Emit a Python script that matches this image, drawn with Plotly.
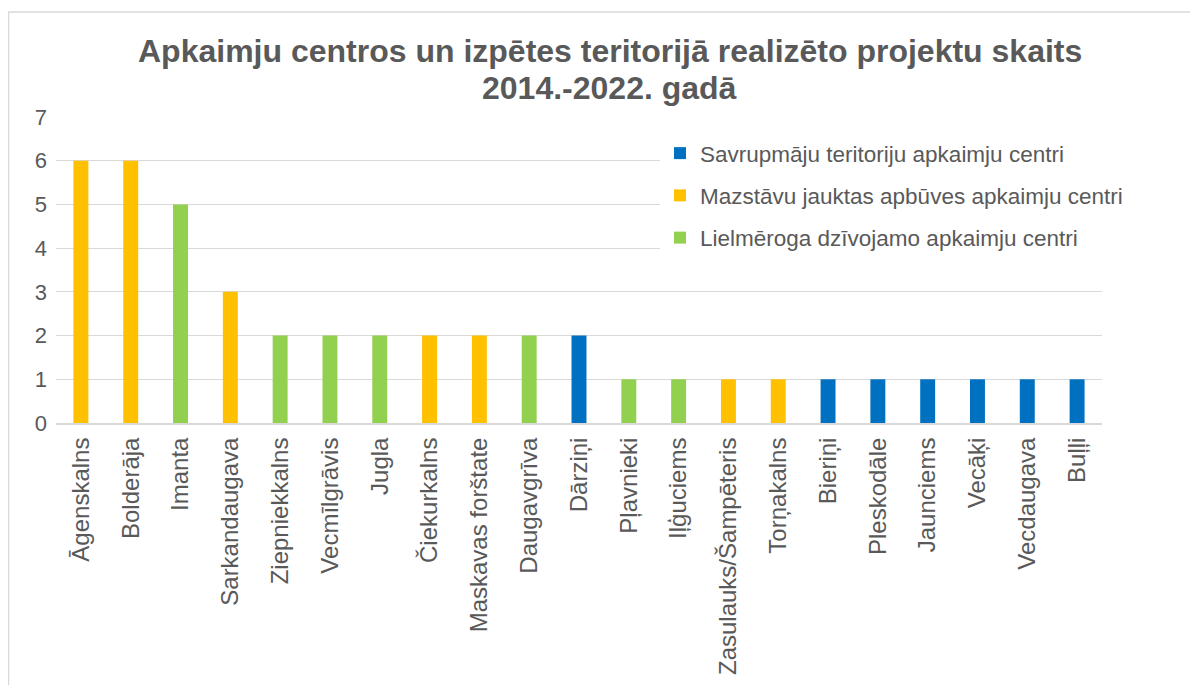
import plotly.graph_objects as go

categories = ["Āgenskalns", "Bolderāja", "Imanta", "Sarkandaugava", "Ziepniekkalns",
              "Vecmīlgrāvis", "Jugla", "Čiekurkalns", "Maskavas forštate", "Daugavgrīva",
              "Dārziņi", "Pļavnieki", "Iļģuciems", "Zasulauks/Šampēteris", "Torņakalns",
              "Bieriņi", "Pleskodāle", "Jaunciems", "Vecāķi", "Vecdaugava", "Buļļi"]
values = [6, 6, 5, 3, 2, 2, 2, 2, 2, 2, 2, 1, 1, 1, 1, 1, 1, 1, 1, 1, 1]
groups = ["M", "M", "L", "M", "L", "L", "L", "M", "M", "L", "S",
          "L", "L", "M", "M", "S", "S", "S", "S", "S", "S"]

series_names = {
    "S": "Savrupmāju teritoriju apkaimju centri",
    "M": "Mazstāvu jauktas apbūves apkaimju centri",
    "L": "Lielmēroga dzīvojamo apkaimju centri",
}
series_colors = {"S": "#0070C0", "M": "#FFC000", "L": "#92D050"}
title_lines = ["Apkaimju centros un izpētes teritorijā realizēto projektu skaits",
               "2014.-2022. gadā"]

grey = "#595959"
font_family = "Liberation Sans, Arial, sans-serif"

fig = go.Figure()
for key in ["S", "M", "L"]:
    xs = [c for c, g in zip(categories, groups) if g == key]
    ys = [v for v, g in zip(values, groups) if g == key]
    fig.add_trace(go.Bar(x=xs, y=ys, name=series_names[key],
                         marker=dict(color=series_colors[key], line=dict(width=0)),
                         legendgroup=key))

# page body adds an 8px offset; figure pixel coordinates below are page coords - 8
W, H = 1190, 677
ml, mr, mt, mb = 48, 96, 109, 262
pw, ph = W - ml - mr, H - mt - mb

def px_x(x):
    return (x - ml) / pw

def px_y(y):
    return (H - mb - y) / ph

annotations = [
    dict(text=title_lines[0], x=px_x(601.5), y=px_y(43), xref="paper", yref="paper",
         xanchor="center", yanchor="middle", showarrow=False,
         font=dict(size=32, color=grey, family=font_family, weight="bold")),
    dict(text=title_lines[1], x=px_x(601.5), y=px_y(80), xref="paper", yref="paper",
         xanchor="center", yanchor="middle", showarrow=False,
         font=dict(size=32, color=grey, family=font_family, weight="bold")),
]

fig.update_layout(
    width=W, height=H,
    margin=dict(l=ml, r=mr, t=mt, b=mb, autoexpand=False),
    paper_bgcolor="white", plot_bgcolor="white",
    barmode="overlay", bargap=0.7,
    font=dict(family=font_family, color=grey),
    annotations=annotations,
    xaxis=dict(categoryorder="array", categoryarray=categories, tickangle=-90,
               tickfont=dict(size=24, color=grey), showline=True, linecolor="#D9D9D9",
               linewidth=2, ticks="", showgrid=False, ticklabelstandoff=3),
    yaxis=dict(range=[0, 7], dtick=1, tickfont=dict(size=22, color=grey),
               gridcolor="#D9D9D9", gridwidth=1, zeroline=False, ticks="",
               ticklen=0, showline=False, ticklabelstandoff=8),
    legend=dict(x=px_x(652), y=px_y(124), xanchor="left", yanchor="top",
                bgcolor="white", font=dict(size=22.5, color=grey),
                traceorder="grouped", tracegroupgap=10, itemwidth=30),
    showlegend=True,
    shapes=[
        dict(type="line", xref="paper", yref="paper", x0=px_x(0.5), x1=px_x(0.5),
             y0=px_y(4), y1=px_y(H + 5), line=dict(color="#D9D9D9", width=1.5)),
        dict(type="line", xref="paper", yref="paper", x0=px_x(0), x1=px_x(W + 5),
             y0=px_y(4), y1=px_y(4), line=dict(color="#D9D9D9", width=1.5)),
    ],
)

fig.write_html("out.html")
